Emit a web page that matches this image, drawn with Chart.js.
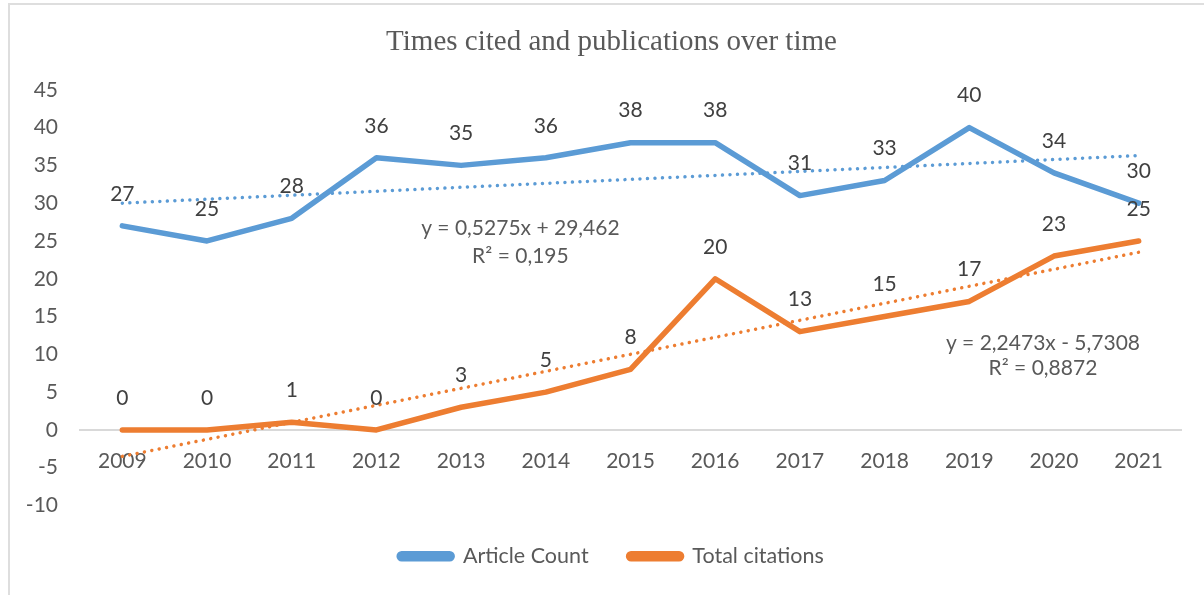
<!DOCTYPE html>
<html>
<head>
<meta charset="utf-8">
<script src="https://cdn.jsdelivr.net/npm/chart.js@4"></script>
<style>
  html, body { margin: 0; padding: 0; background: #fff; }
  body { width: 1204px; height: 595px; position: relative; overflow: hidden; }
  #frame { position: absolute; left: 8px; top: 3px; width: 1400px; height: 800px;
           border-top: 2px solid #dedede; border-left: 2px solid #dedede; box-sizing: border-box; }
  #c { position: absolute; left: 0; top: 0; }
</style>
</head>
<body>
<div id="frame"></div>
<canvas id="c" width="1204" height="595"></canvas>
<script>
const years = ['2009','2010','2011','2012','2013','2014','2015','2016','2017','2018','2019','2020','2021'];
const articleCount = [27, 25, 28, 36, 35, 36, 38, 38, 31, 33, 40, 34, 30];
const totalCitations = [0, 0, 1, 0, 3, 5, 8, 20, 13, 15, 17, 23, 25];
// linear trend endpoints (first and last year)
const articleTrend = [30.0, null, null, null, null, null, null, null, null, null, null, null, 36.3];
const citationTrend = [-3.5, null, null, null, null, null, null, null, null, null, null, null, 23.5];
const yTicks = { min: -10, max: 45, step: 5 };
const articleEquation = ['y = 0,5275x + 29,462', 'R² = 0,195'];
const citationEquation = ['y = 2,2473x - 5,7308', 'R² = 0,8872'];

const BLUE = '#5B9BD5';
const ORANGE = '#ED7D31';
const FONT = 'Lato, "Open Sans", sans-serif';

const pointLabels = {
  id: 'pointLabels',
  afterDatasetsDraw(chart) {
    const ctx = chart.ctx;
    ctx.save();
    ctx.font = '21px ' + FONT;
    ctx.fillStyle = '#404040';
    ctx.textAlign = 'center';
    ctx.textBaseline = 'middle';
    [0, 1].forEach(di => {
      const meta = chart.getDatasetMeta(di);
      const data = chart.data.datasets[di].data;
      meta.data.forEach((pt, i) => {
        ctx.fillText(String(data[i]), pt.x, pt.y - 32);
      });
    });
    ctx.restore();
  }
};

const equations = {
  id: 'equations',
  afterDatasetsDraw(chart, args, opts) {
    const ctx = chart.ctx;
    const xs = chart.scales.x, ys = chart.scales.y;
    ctx.save();
    ctx.font = '21px ' + FONT;
    ctx.fillStyle = '#595959';
    ctx.textAlign = 'center';
    ctx.textBaseline = 'middle';
    opts.items.forEach(it => {
      const x = xs.getPixelForValue(it.at);
      it.lines.forEach((t, k) => {
        ctx.fillText(t, x, ys.getPixelForValue(it.values[k]));
      });
    });
    ctx.restore();
  }
};

// centre title and legend over the inner frame rather than the whole canvas
const recenter = {
  id: 'recenter',
  afterLayout(chart, args, opts) {
    [chart.titleBlock, chart.legend].forEach(b => {
      if (b) { b.left += opts.shift; b.width = b.right - b.left; }
    });
  }
};

new Chart(document.getElementById('c'), {
  type: 'line',
  data: {
    labels: years,
    datasets: [
      { label: 'Article Count', data: articleCount, borderColor: BLUE, backgroundColor: BLUE,
        borderWidth: 5.5, pointRadius: 0, tension: 0, borderJoinStyle: 'round', borderCapStyle: 'round', order: 1 },
      { label: 'Total citations', data: totalCitations, borderColor: ORANGE, backgroundColor: ORANGE,
        borderWidth: 5.5, pointRadius: 0, tension: 0, borderJoinStyle: 'round', borderCapStyle: 'round', order: 0 },
      { label: 'Linear (Article Count)', data: articleTrend, borderColor: BLUE, borderWidth: 3.5,
        borderDash: [0.01, 7.5], borderCapStyle: 'round', pointRadius: 0, spanGaps: true, order: 2 },
      { label: 'Linear (Total citations)', data: citationTrend, borderColor: ORANGE, borderWidth: 3.5,
        borderDash: [0.01, 7.5], borderCapStyle: 'round', pointRadius: 0, spanGaps: true, order: 2 }
    ]
  },
  options: {
    responsive: false,
    animation: false,
    devicePixelRatio: 1,
    layout: { padding: { left: 10, right: 23, top: 4, bottom: 18 } },
    scales: {
      x: {
        type: 'category',
        offset: true,
        position: { y: 0 },
        grid: { display: true, drawOnChartArea: false, drawTicks: false },
        border: { display: true, color: '#d9d9d9', width: 2 },
        ticks: { color: '#595959', font: { family: FONT, size: 21 }, padding: 19, maxRotation: 0, autoSkip: false }
      },
      y: {
        min: yTicks.min, max: yTicks.max,
        grid: { display: false, drawTicks: false },
        border: { display: false },
        ticks: { stepSize: yTicks.step, color: '#595959', font: { family: FONT, size: 21 }, padding: 22 },
        afterFit(s) { s.width = 70; }
      }
    },
    plugins: {
      title: {
        display: true,
        text: 'Times cited and publications over time',
        color: '#595959',
        font: { family: '"Liberation Serif", "Times New Roman", serif', size: 29, weight: 'normal' },
        padding: { top: 20.5, bottom: 30.5 }
      },
      legend: {
        position: 'bottom',
        labels: {
          color: '#595959',
          font: { family: FONT, size: 21.5 },
          boxWidth: 53, boxHeight: 5,
          useBorderRadius: true, borderRadius: 2.5,
          padding: 40,
          sort: (a, b) => a.datasetIndex - b.datasetIndex,
          filter: item => item.datasetIndex < 2
        }
      },
      tooltip: { enabled: false },
      recenter: { shift: 32 },
      equations: {
        items: [
          { at: 4.7, lines: articleEquation, values: [26.7, 23.0] },
          { at: 10.87, lines: citationEquation, values: [11.5, 8.2] }
        ]
      }
    }
  },
  plugins: [pointLabels, equations, recenter]
});
</script>
</body>
</html>
